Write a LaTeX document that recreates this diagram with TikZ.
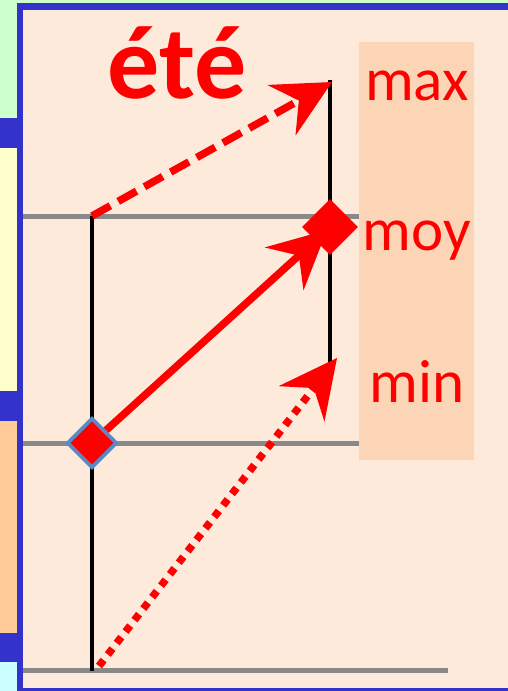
\documentclass[tikz,border=0pt]{standalone}
\usepackage{fontspec}
\setmainfont{Carlito}
\usetikzlibrary{arrows.meta,shapes.geometric}
\definecolor{frameblue}{HTML}{3333CC}
\definecolor{paleG}{HTML}{CCFFCC}
\definecolor{paleY}{HTML}{FFFFCC}
\definecolor{paleO}{HTML}{FFCC99}
\definecolor{paleC}{HTML}{CCFFFF}
\definecolor{peach}{HTML}{FDEADA}
\definecolor{labbox}{HTML}{FBD5B5}
\definecolor{gridgray}{HTML}{898989}
\definecolor{steel}{HTML}{5A8AC6}
\tikzset{
  gline/.style={gridgray, line width=5pt},
  vline/.style={black, line width=3.8pt},
  bigtip/.style={-{Stealth[length=58pt, width=58pt, inset=20pt, line width=0pt]}},
  redarrow/.style={red, line width=7.5pt, bigtip},
  lab/.style={red, anchor=base, font=\fontsize{61}{61}\selectfont, inner sep=0pt},
  diam/.style={diamond, fill=red, inner sep=0pt, minimum width=#1, minimum height=#1},
}
\begin{document}
\begin{tikzpicture}[x=1pt,y=-1pt]
\useasboundingbox (0,0) rectangle (508,691);
% side strips
\fill[paleG] (0,0) rectangle (508,3);
\fill[paleG] (0,0) rectangle (17,118);
\fill[frameblue] (0,118) rectangle (17,148);
\fill[paleY] (0,148) rectangle (17,391);
\fill[frameblue] (0,391) rectangle (17,421);
\fill[paleO] (0,421) rectangle (17,633);
\fill[frameblue] (0,633) rectangle (17,662);
\fill[paleC] (0,662) rectangle (17,691);
% frame
\fill[frameblue] (17,3) rectangle (508,691);
\fill[peach] (23,10) rectangle (508,688);
% coordinates
\coordinate (gl1) at (23,216);  \coordinate (gr1) at (359,216);
\coordinate (gl2) at (23,443);  \coordinate (gr2) at (359,443);
\coordinate (gl3) at (23,670);  \coordinate (gr3) at (448,670);
\coordinate (Ltop) at (92,216); \coordinate (Lmid) at (92,443); \coordinate (Lbot) at (92,671);
\coordinate (Rtop) at (330,80); \coordinate (Rmid) at (330,227); \coordinate (Rbot) at (330,362);
\coordinate (dashend) at (332,82);
\coordinate (dotstart) at (99,666); \coordinate (dotend) at (337,358);
\coordinate (solidend) at (327,230);
% grid lines
\draw[gline] (gl1) -- (gr1);
\draw[gline] (gl2) -- (gr2);
\draw[gline] (gl3) -- (gr3);
% label box
\fill[labbox] (359,42) rectangle (474,460);
% verticals
\draw[vline] (Ltop) -- (Lbot);
\draw[vline] (Rtop) -- (Rbot);
% arrows
\draw[redarrow, dash pattern=on 21pt off 9pt] (Ltop) -- (dashend);
\draw[redarrow, dash pattern=on 7.5pt off 7pt] (dotstart) -- (dotend);
\draw[redarrow] (Lmid) -- (solidend);
% diamonds
\node[diam=50pt, draw=steel, line width=3.8pt] (dL) at (Lmid) {};
\node[diam=56pt] (dR) at (Rmid) {};
% texts
\node[red, anchor=base, inner sep=0pt, font=\fontsize{104}{104}\selectfont\bfseries] (ete) at (177,98) {été};
\node[lab] (tmax) at (417,100) {max};
\node[lab] (tmoy) at (417,250) {moy};
\node[lab] (tmin) at (417,402) {min};
\end{tikzpicture}
\end{document}
